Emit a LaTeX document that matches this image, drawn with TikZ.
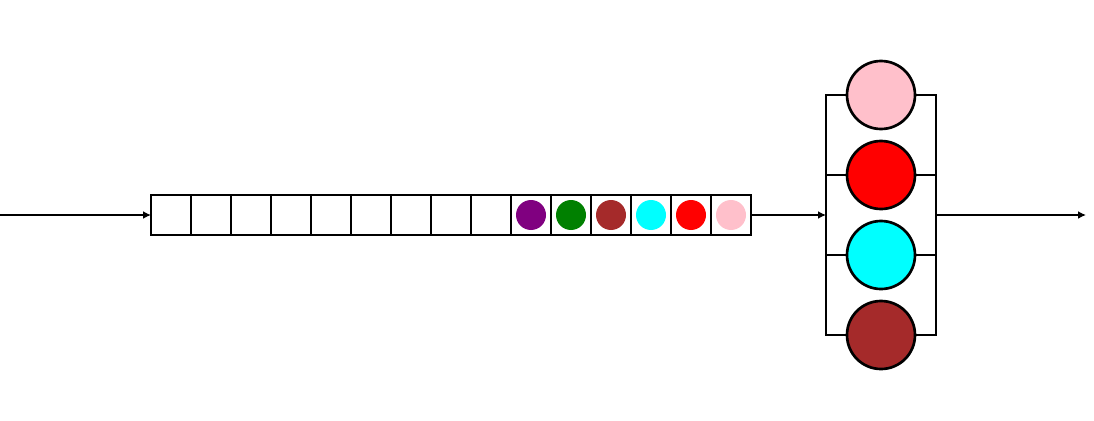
\documentclass[tikz,border=0pt]{standalone}
\usetikzlibrary{positioning, arrows.meta}

\definecolor{jobpurple}{HTML}{800080}
\definecolor{jobgreen}{HTML}{008000}
\definecolor{jobbrown}{HTML}{A52A2A}
\definecolor{jobcyan}{HTML}{00FFFF}
\definecolor{jobred}{HTML}{FF0000}
\definecolor{jobpink}{HTML}{FFC0CB}

\begin{document}
\begin{tikzpicture}[
  line width=1.9pt,
  node distance=0cm,
  cell/.style={draw, rectangle, minimum size=1cm, inner sep=0pt, outer sep=0pt},
  job/.style={circle, minimum size=0.75cm, inner sep=0pt},
  server/.style={draw, circle, minimum size=1.7cm, inner sep=0pt, outer sep=0pt},
  arrow/.style={-{Latex[length=2mm, width=2mm]}}
]
\useasboundingbox (0,-5.125) rectangle (27.35,5.375);

% Queue
\node[cell] (c1) at (4.275,0) {};
\foreach \i [count=\j from 2] in {1,...,14}
  \node[cell, right=of c\i] (c\j) {};

% Waiting jobs
\foreach \c [count=\i from 10] in {jobpurple,jobgreen,jobbrown,jobcyan,jobred,jobpink}
  \node[job, fill=\c] (j\i) at (c\i) {};

% Servers
\foreach \c [count=\i] in {jobpink,jobred,jobcyan,jobbrown}
  \node[server, fill=\c] (s\i) at (22.025,5-2*\i) {};

\coordinate (src) at (0,0);
\coordinate (split) at (20.65,0);
\coordinate (merge) at (23.4,0);
\coordinate (sink) at (27.15,0);

% Brackets
\draw (s1.west) -- (s1.west -| split) -- (s4.west -| split) -- (s4.west);
\draw (s1.east) -- (s1.east -| merge) -- (s4.east -| merge) -- (s4.east);
\foreach \i in {2,3} {
  \draw (s\i.west) -- (s\i.west -| split);
  \draw (s\i.east) -- (s\i.east -| merge);
}

% Flow
\draw[arrow] (src) -- (c1.west);
\draw[arrow] (c15.east) -- (split);
\draw[arrow] (merge) -- (sink);

\end{tikzpicture}
\end{document}
